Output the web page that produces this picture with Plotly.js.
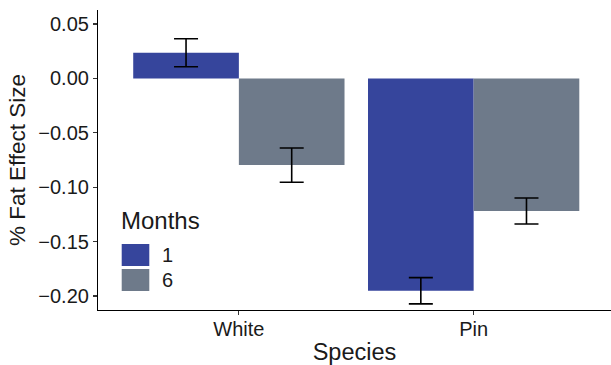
<!DOCTYPE html>
<html>
<head>
<meta charset="utf-8">
<script src="https://cdn.plot.ly/plotly-3.0.1.min.js"></script>
<style>html,body{margin:0;padding:0;background:#fff;}#chart{width:611px;height:365px;}</style>
</head>
<body>
<div id="chart"></div>
<script>
// Data
const species = ["White", "Pin"];
const months = ["1", "6"];
const values1 = [0.0236, -0.1952];
const values6 = [-0.0797, -0.1219];
const errors1 = [0.0129, 0.0121];
const errors6 = [0.0157, 0.0120];
const colors = ["#36459C", "#6E7A8A"];
const yTicks = [0.05, 0.00, -0.05, -0.10, -0.15, -0.20];
const yTickText = ["0.05", "0.00", "\u22120.05", "\u22120.10", "\u22120.15", "\u22120.20"];

const FONT = "Liberation Sans, Arial, Helvetica, sans-serif";
const TXT = "#1a1a1a";

const seriesVals = [values1, values6];
const seriesErr = [errors1, errors6];
const traces = months.map((m, i) => ({
  type: "bar",
  name: m,
  x: species,
  y: seriesVals[i],
  marker: {color: colors[i], line: {width: 0}},
  error_y: {type: "data", array: seriesErr[i], visible: true, color: "#000", thickness: 1.6, width: 12},
  showlegend: false,
  hoverinfo: "skip"
}));

// Legend built from series names and colours
const shapes = [];
const annotations = [{
  xref: "paper", yref: "paper", x: 0.04, y: (310 - 220) / 300,
  text: "Months", showarrow: false, xanchor: "left", yanchor: "middle",
  font: {family: FONT, size: 24, color: TXT}
}];
months.forEach((m, i) => {
  const cy = 255 + i * 25; // pixel center
  shapes.push({
    type: "rect", xref: "paper", yref: "paper",
    x0: (121.7 - 98) / 513, x1: (149.3 - 98) / 513,
    y0: (310 - (cy + 11)) / 300, y1: (310 - (cy - 11)) / 300,
    fillcolor: colors[i], line: {width: 0}
  });
  annotations.push({
    xref: "paper", yref: "paper", x: (160 - 98) / 513, y: (310 - cy) / 300,
    text: m, showarrow: false, xanchor: "left", yanchor: "middle",
    font: {family: FONT, size: 20, color: TXT}
  });
});

const layout = {
  width: 611, height: 365,
  margin: {l: 98, r: 0, t: 10, b: 55},
  paper_bgcolor: "#fff", plot_bgcolor: "#fff",
  barmode: "group", bargap: 0.1, bargroupgap: 0,
  font: {family: FONT, color: TXT},
  xaxis: {
    range: [-0.6, 1.585], showgrid: false, zeroline: false,
    showline: true, linecolor: "#000", linewidth: 1.1,
    ticks: "outside", ticklen: 4, tickcolor: "#333", tickwidth: 1.1,
    ticklabelstandoff: -3,
    tickfont: {family: FONT, size: 20, color: TXT},
    title: {text: "Species", font: {family: FONT, size: 23.5, color: TXT}, standoff: 4},
    fixedrange: true
  },
  yaxis: {
    range: [-0.2129, 0.0629], showgrid: false, zeroline: false,
    showline: true, linecolor: "#000", linewidth: 1.1,
    ticks: "outside", ticklen: 4, tickcolor: "#333", tickwidth: 1.1,
    tickvals: yTicks, ticktext: yTickText,
    tickfont: {family: FONT, size: 20, color: TXT},
    title: {text: "% Fat Effect Size", font: {family: FONT, size: 22.5, color: TXT}, standoff: 6},
    fixedrange: true
  },
  shapes: shapes,
  annotations: annotations,
  showlegend: false
};

Plotly.newPlot("chart", traces, layout, {displayModeBar: false, staticPlot: true});
</script>
</body>
</html>
